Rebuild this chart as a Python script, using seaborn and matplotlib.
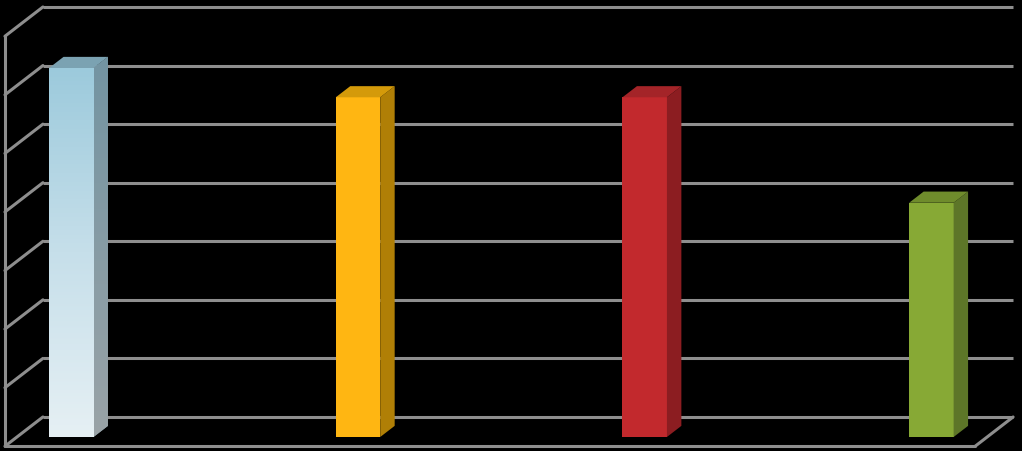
import numpy as np
import pandas as pd
import matplotlib
matplotlib.use("Agg")
import matplotlib.pyplot as plt
from matplotlib.patches import Polygon
from matplotlib.colors import LinearSegmentedColormap
import seaborn as sns

# data (scale 0..7, one gridline per unit)
categories = ["A", "B", "C", "D"]
values = [6.3, 5.8, 5.8, 4.0]
front_colors = ["#a2cdde", "#ffb612", "#c2292d", "#87a935"]
side_colors = ["#7797a5", "#b07f06", "#8c1d21", "#5d7628"]
top_colors = ["#7ba2b2", "#d49a0a", "#a42428", "#6f8c2c"]

df = pd.DataFrame({"cat": categories, "val": values})

# geometry of the fake 3d box (data units)
depth_x, depth_y = 0.1325, 0.5          # full floor depth
back_x, back_y = 0.0914, 0.342          # bar front plane -> back wall
bar_dx, bar_dy = 0.0504, 0.19           # bar depth
wall_left, wall_right = -0.099, 3.285   # back wall extent
n_grid = 7
grid_col = "#8e8e8e"
grid_lw = 2.2

sns.set_style("dark")
fig = plt.figure(figsize=(10.22, 4.52), dpi=100, facecolor="black")
ax = fig.add_axes([0, 0, 1, 1])
ax.set_facecolor("black")

sns.barplot(data=df, x="cat", y="val", hue="cat", palette=front_colors,
            width=0.155, saturation=1, legend=False, linewidth=0, ax=ax, zorder=3)

# back wall gridlines
for v in range(n_grid + 1):
    y = v + back_y
    ax.plot([wall_left, wall_right], [y, y], color=grid_col, lw=grid_lw,
            solid_capstyle="butt", zorder=1)
    # left wall diagonals
    ax.plot([wall_left, wall_left - depth_x], [y, y - depth_y], color=grid_col,
            lw=grid_lw, zorder=1)

# left wall front edge
ax.plot([wall_left - depth_x] * 2, [back_y - depth_y, n_grid + back_y - depth_y],
        color=grid_col, lw=grid_lw, zorder=1)
# floor front edge and right diagonal
ax.plot([wall_left - depth_x, wall_right - depth_x], [back_y - depth_y] * 2,
        color=grid_col, lw=grid_lw, zorder=1)
ax.plot([wall_right - depth_x, wall_right], [back_y - depth_y, back_y],
        color=grid_col, lw=grid_lw, zorder=1)

# side and top faces from the seaborn bars
grad = np.linspace(0, 1, 256).reshape(-1, 1)
for i, p in enumerate(ax.patches[:len(values)]):
    x0, w, h = p.get_x(), p.get_width(), p.get_height()
    x1 = x0 + w
    side = Polygon([(x1, 0), (x1 + bar_dx, bar_dy), (x1 + bar_dx, h + bar_dy), (x1, h)],
                   closed=True, facecolor=side_colors[i], edgecolor="none", zorder=3)
    top = Polygon([(x0, h), (x1, h), (x1 + bar_dx, h + bar_dy), (x0 + bar_dx, h + bar_dy)],
                  closed=True, facecolor=top_colors[i], edgecolor="none", zorder=3)
    ax.add_patch(side)
    ax.add_patch(top)
    if i == 0:
        # first bar has a light blue -> white gradient
        cm_front = LinearSegmentedColormap.from_list("f", ["#9ccadc", "#c6dfea", "#e6f0f4"])
        im = ax.imshow(grad, cmap=cm_front, extent=(x0, x1, 0, h), aspect="auto", zorder=3.2)
        im.set_clip_path(p)
        cm_side = LinearSegmentedColormap.from_list("s", ["#7394a2", "#9aa3a7"])
        im2 = ax.imshow(grad, cmap=cm_side, extent=(x1, x1 + bar_dx, 0, h + bar_dy),
                        aspect="auto", zorder=3.2)
        im2.set_clip_path(side)

ax.set_xlim(-0.2487, 3.316)
ax.set_ylim(-0.239, 7.478)
ax.axis("off")

fig.savefig("out.png", dpi=100, facecolor="black")
